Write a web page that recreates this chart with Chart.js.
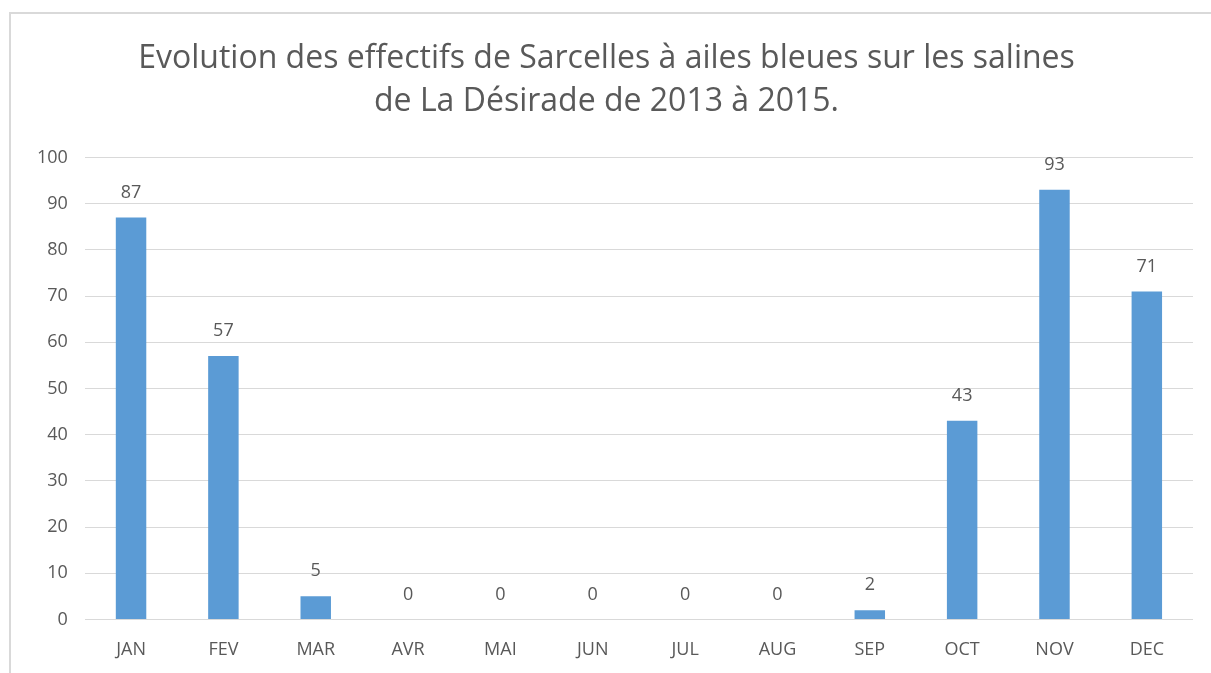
<!DOCTYPE html>
<html>
<head>
<meta charset="utf-8">
<script src="https://cdn.jsdelivr.net/npm/chart.js@4"></script>
<style>
  html, body { margin: 0; padding: 0; background: #fff; overflow: hidden; }
  #frame { position: absolute; left: 9px; top: 12px; width: 1220px; height: 700px; border: 2px solid #d9d9d9; box-sizing: border-box; }
  #wrap { position: absolute; left: 0; top: 0; width: 1211px; height: 673px; }
</style>
</head>
<body>
<div id="frame"></div>
<div id="wrap"><canvas id="bars"></canvas></div>
<script>
const months = ["JAN", "FEV", "MAR", "AVR", "MAI", "JUN", "JUL", "AUG", "SEP", "OCT", "NOV", "DEC"];
const counts = [87, 57, 5, 0, 0, 0, 0, 0, 2, 43, 93, 71];
const titleLines = ["Evolution des effectifs de Sarcelles à ailes bleues sur les salines", "de La Désirade de 2013 à 2015."];

const textColor = "#595959";
const font = "'Open Sans', sans-serif";

// value labels above each bar
const valueLabels = {
  id: "valueLabels",
  afterDatasetsDraw(chart) {
    const ctx = chart.ctx;
    const meta = chart.getDatasetMeta(0);
    ctx.save();
    ctx.fillStyle = textColor;
    ctx.font = "18px " + font;
    ctx.textAlign = "center";
    ctx.textBaseline = "bottom";
    meta.data.forEach((bar, i) => {
      ctx.fillText(String(counts[i]), bar.x, bar.y - 16);
    });
    ctx.restore();
  },
};

const ctx = document.getElementById("bars").getContext("2d");
new Chart(ctx, {
  type: "bar",
  data: {
    labels: months,
    datasets: [
      {
        label: "Effectifs",
        data: counts,
        backgroundColor: "#5b9bd5",
        barPercentage: 0.33,
        categoryPercentage: 1,
      },
    ],
  },
  options: {
    responsive: true,
    maintainAspectRatio: false,
    animation: false,
    layout: { padding: { left: 20, right: 18, top: 37, bottom: -8 } },
    plugins: {
      legend: { display: false },
      tooltip: { enabled: false },
      title: {
        display: true,
        text: titleLines,
        color: textColor,
        font: { family: font, size: 32, weight: "normal", lineHeight: 1.35 },
        padding: { top: 0, bottom: 34 },
      },
    },
    scales: {
      x: {
        grid: { display: false, drawTicks: false },
        border: { display: false },
        ticks: { color: textColor, font: { family: font, size: 18 }, padding: 20 },
      },
      y: {
        min: 0,
        max: 100,
        ticks: { stepSize: 10, color: textColor, font: { family: font, size: 18 }, padding: 17 },
        grid: { color: "#d9d9d9", drawTicks: false },
        border: { display: false },
      },
    },
  },
  plugins: [valueLabels],
});
</script>
</body>
</html>
